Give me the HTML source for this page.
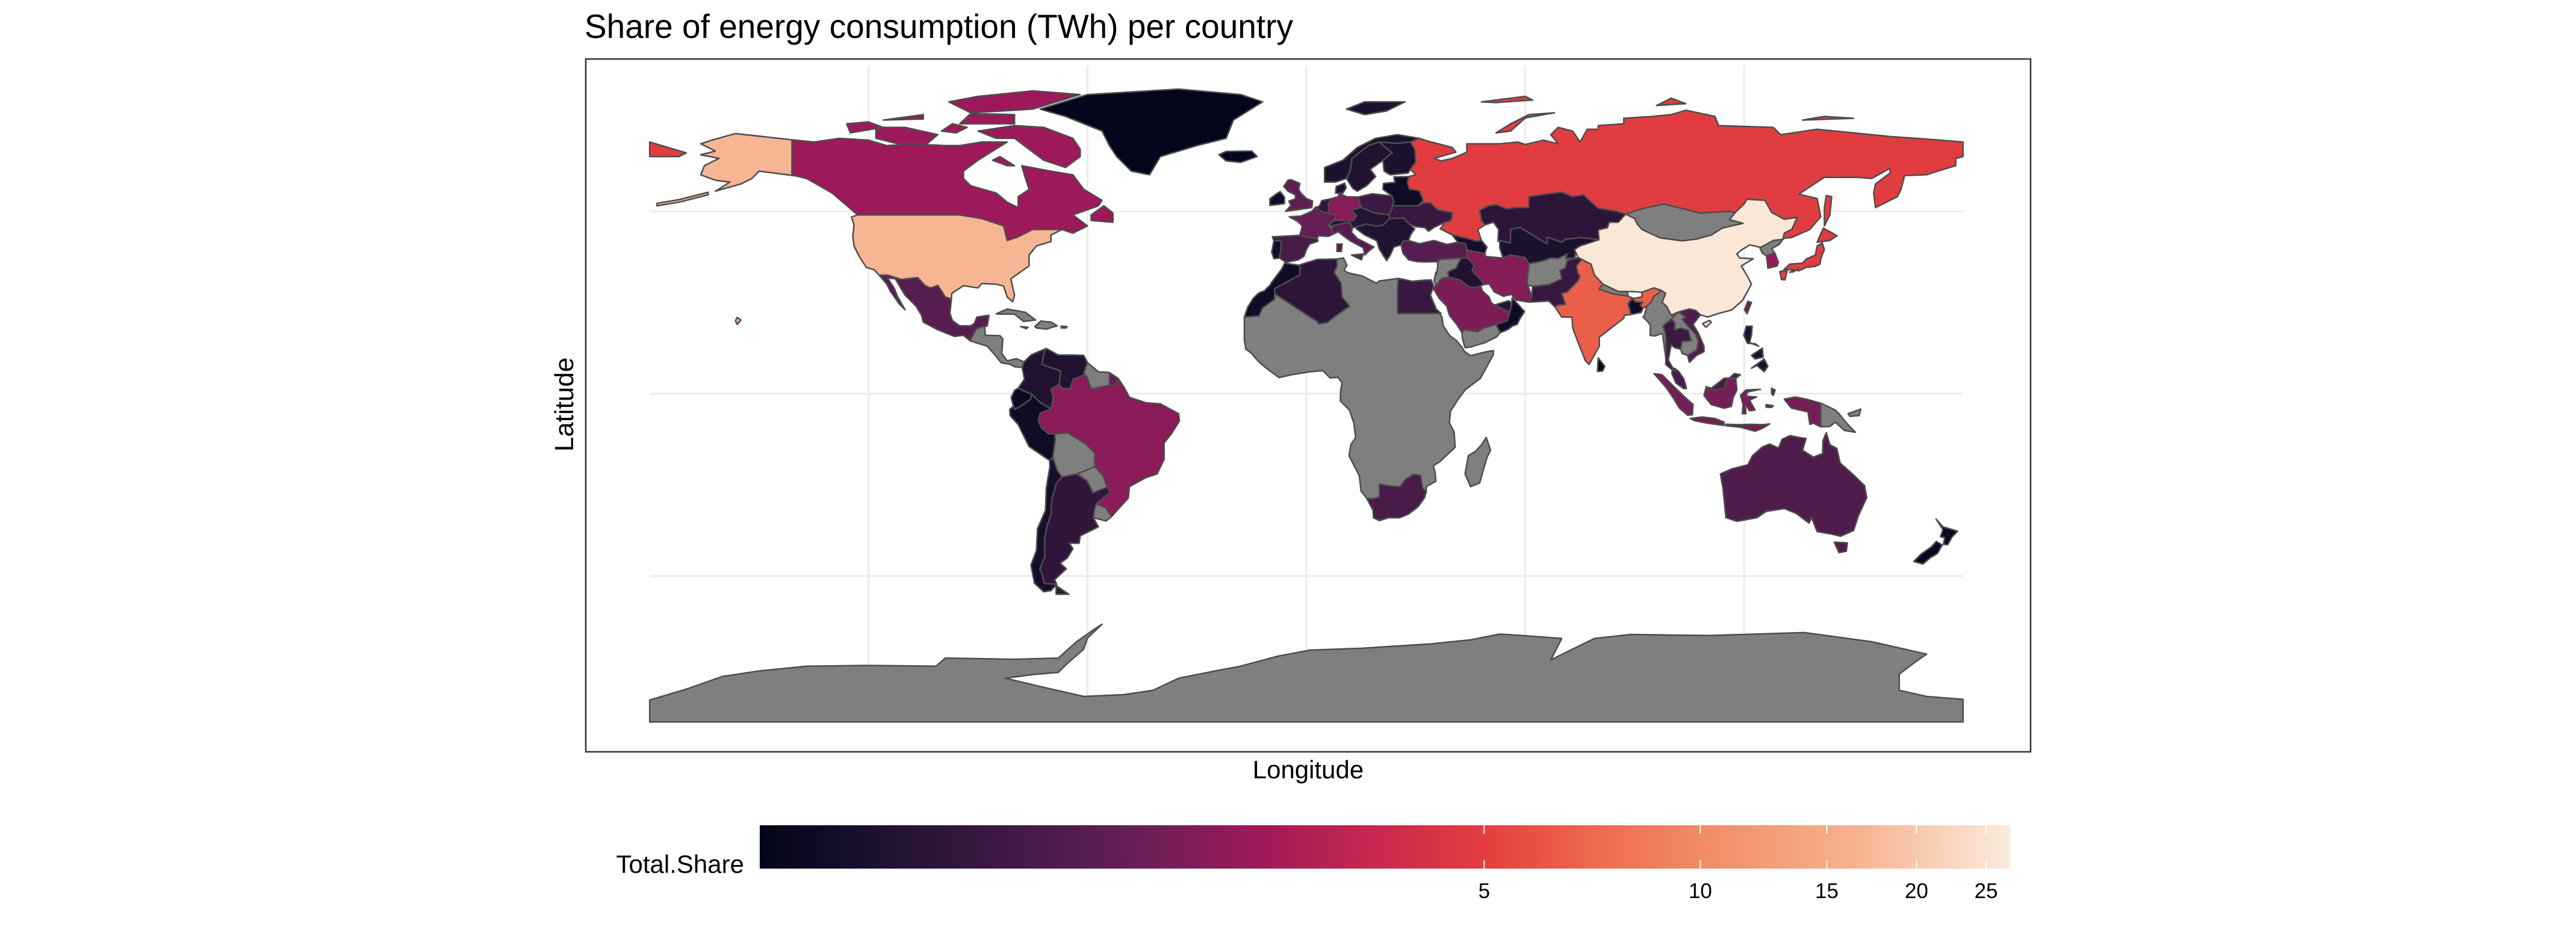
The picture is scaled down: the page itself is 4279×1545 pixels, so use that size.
<!DOCTYPE html>
<html><head><meta charset="utf-8"><style>
html,body{margin:0;padding:0;background:#fff}
svg{display:block;font-family:"Liberation Sans",Arial,sans-serif}
</style></head><body>
<svg id="chart" width="4279" height="1545" viewBox="0 0 4279 1545" xmlns="http://www.w3.org/2000/svg">
<defs><linearGradient id="rocket" x1="0" x2="1" y1="0" y2="0"></linearGradient></defs>
<rect width="4279" height="1545" fill="#fff"/>
<text x="971" y="63" font-size="56" textLength="1177" lengthAdjust="spacingAndGlyphs">Share of energy consumption (TWh) per country</text>
<g id="grid"></g>
<g id="map"></g>
<rect x="973" y="98" width="2400" height="1151" fill="none" stroke="#333" stroke-width="2.5"/>
<text x="2173" y="1293" font-size="42" text-anchor="middle">Longitude</text>
<text transform="translate(952,672) rotate(-90)" font-size="44" text-anchor="middle">Latitude</text>
<text x="1236" y="1450" font-size="42" text-anchor="end">Total.Share</text>
<rect id="cbar" x="1262" y="1371" width="2077" height="72" fill="url(#rocket)"/>
<g id="cticks"></g>
</svg>
<script>
// ---- data ----
const legendTicks = [5, 10, 15, 20, 25];
const scaleMin = 0.49, scaleMax = 27;
const countries = ["Greenland","Iceland","Canada","USA","Russia","Mexico","CentralAmerica","Cuba","Hispaniola","Colombia","Venezuela","Guianas","FrenchGuiana","Ecuador","Peru","Brazil","Bolivia","Paraguay","Uruguay","Argentina","Chile","Norway","Sweden","Finland","UK","Ireland","France","Spain","Portugal","Germany","Benelux","Denmark","Poland","Italy","CentralEurope","Balkans","Baltics","Ukraine","Kazakhstan","CentralAsia","Mongolia","China","NorthKorea","SouthKorea","Japan","Taiwan","India","Bangladesh","Nepal","Pakistan","Afghanistan","Iran","Iraq","Levant","SaudiArabia","Yemen","Oman","UAE","Turkey","Caucasus","Africa","Morocco","Algeria","Egypt","SouthAfrica","Madagascar","Myanmar","Thailand","Indochina","Vietnam","Malaysia","Indonesia","PNG","Philippines","SriLanka","Australia","NewZealand","Antarctica"];
const values = [0.5,0.5,2.4,17,4.9,1.4,null,null,null,0.75,0.75,null,1.6,0.55,0.6,2.1,null,null,null,0.9,0.65,0.7,0.75,0.7,1.5,0.6,1.6,1.2,0.6,2.1,0.9,0.7,1.05,1.4,0.8,0.75,0.6,1.0,0.85,0.7,null,26,null,2.3,4.8,1.5,6.5,0.6,null,1.0,null,2.0,0.75,null,1.9,null,0.6,0.8,1.4,0.65,null,0.6,0.85,1.0,1.2,null,null,1.05,null,1.3,1.2,1.8,null,0.7,0.5,1.3,0.55,null];
// ---- geometry (lon/lat) ----
const shapes = {
Greenland:[[[-73,78],[-60,82],[-35,83.5],[-18,82],[-12,80],[-20,75],[-22,70],[-30,68],[-40,65],[-43,60],[-48,61],[-52,65],[-54,68],[-56,72],[-66,76]]],
Iceland:[[[-24,65.5],[-22,66.4],[-15,66.5],[-13.5,65],[-18,63.4],[-22,63.8]]],
Canada:[[[-141,69.6],[-141,60],[-137,59],[-130,55],[-123,49],[-95,49],[-89,48],[-83,46],[-82,42],[-79,43],[-75,45],[-71,45],[-67,45],[-64,44],[-60,46],[-64,49],[-57,51.5],[-56,53],[-61,56],[-64,60],[-70,61],[-78,62.5],[-77,59],[-76,56],[-79,54],[-79,51],[-82,52.5],[-85,55],[-92,57],[-94,59],[-94,61],[-90,64],[-86,66.5],[-82,69],[-89,69],[-95,68],[-99,68],[-108,68.5],[-115,68],[-120,69.5],[-128,70],[-135,69]],
[[-62,67],[-64,70],[-72,73],[-80,73.5],[-90,72],[-85,70],[-80,70],[-76,67],[-72,64],[-66,62],[-62,65]],
[[-92,77],[-75,78],[-62,82],[-75,83],[-90,81.5],[-98,80]],
[[-118,70],[-118,73],[-110,73],[-101,71],[-104,68.5],[-112,68.5]],
[[-125,71.5],[-126,74],[-120,74.5],[-116,73]],
[[-95,74],[-80,74],[-80,76.5],[-92,76.8]],
[[-59,47.5],[-53,47],[-53,49.5],[-55.5,51.5],[-59,49]],
[[-100,72],[-97,74],[-93,73],[-96,71.5]],
[[-116,75],[-105,76.5],[-105,75.3]],
[[-80,62.5],[-84,65],[-86,64],[-82,62.5]]],
USA:[[[-124.7,48.4],[-123,49],[-95,49],[-89,48],[-83,46],[-82,42],[-79,43],[-75,45],[-71,45],[-67,45],[-70,43.5],[-70,41.7],[-74,40.5],[-76,38],[-76,35],[-81,31.5],[-80,27],[-80.5,25.2],[-82,26.5],[-83,29.5],[-85,30],[-89,30.2],[-90,29],[-94,29.6],[-97.2,27.5],[-97.3,26],[-99,26.5],[-101,29.7],[-103,29],[-104.5,29.6],[-106.5,31.8],[-111,31.3],[-114.8,32.5],[-117.1,32.5],[-118.5,34],[-120.6,34.6],[-122.5,37.5],[-124,40.5],[-124.3,43],[-124,46.3]],
[[-141,69.6],[-156.5,71.3],[-163,69.5],[-166,68.5],[-162,66.5],[-166,65.5],[-161,64.5],[-165,62.5],[-166,60],[-162,58.5],[-158,58],[-162,55.5],[-155,57.5],[-152,59],[-150,61],[-146,60.5],[-140,59.7],[-137,59],[-141,60]],
[[-164,54.5],[-172,52.5],[-178,51.5],[-178,52.2],[-172,53.2],[-164,55.2]],
[[-156,19],[-155,20.2],[-156,20.9],[-156.5,20]]],
Russia:[[[28,59.5],[30,60],[28.5,61.5],[30,63.5],[29.7,67],[28.5,69],[31,70],[33,69.3],[40,67.5],[41,66.2],[35,64.5],[37,63.8],[40,64.5],[44,66.2],[44,68.5],[53,68.5],[58,69],[60,68.3],[65,69.5],[69,68.5],[67,71],[69,73],[73,72],[75,69],[77,72.5],[80,72.5],[80,73.5],[87,74],[87,75.5],[95,76],[100,76.5],[104,77.7],[112,76],[113,73.5],[128,73],[130,71],[140,72.5],[150,71.5],[160,70.5],[170,69.8],[180,69],[180,65],[178,64.5],[178,62.5],[173,61],[170,60],[164,59.8],[163,56],[162,54],[158,52],[156,51],[155.5,55],[156,57.5],[160,60.5],[160,61.8],[155,59],[151,59.3],[142,59.3],[135,54.7],[140,53.5],[141,48.5],[138,45],[133,42.8],[131,42.6],[130.6,42.3],[131,44],[133.1,45.1],[134.5,48.3],[131,47.8],[127.5,49.7],[125.7,53],[120.8,53.3],[120,52],[117.5,49.6],[116,50],[108,49.5],[98,52],[92,50.7],[87.5,49.2],[85,50],[80,50.8],[77,53.5],[76,54.5],[73,54],[70,55.2],[65,54.6],[61,54],[61,51],[57,51],[55,50.6],[52,51.8],[50,51.5],[47.5,50.3],[48,48],[48,47.5],[49,46.3],[47,45],[48,42],[46.6,41.8],[44,42.6],[40,43.5],[36.7,45.2],[38,47],[39.7,47.5],[40,49.6],[36,50.4],[34,52.3],[32,52.3],[32,53],[31,55.6],[28.2,56.1],[27.7,57.8]],
[[142,46],[143.5,49],[144,54],[142.5,54.3],[142,51]],
[[52,71.5],[56,74],[61,76.5],[68,77],[60,75.6],[56,72]],
[[96,79],[104,79.5],[100,81]],
[[136,75],[150,75.5],[142,76]],
[[48,80],[60,81.5],[62,80.5],[52,79.8]],
[[-180,65],[-172,65],[-170,66],[-175,67.5],[-180,69]]],
Mexico:[[[-117.1,32.5],[-114.8,32.5],[-111,31.3],[-106.5,31.8],[-104.5,29.6],[-103,29],[-101,29.7],[-99,26.5],[-97.3,26],[-97.7,22],[-97,20],[-95,18.6],[-92,18.6],[-91,19.3],[-90.3,21],[-87,21.5],[-87.5,18.5],[-88.2,18.5],[-90.5,17.8],[-91.4,16],[-92.2,14.5],[-94,16],[-96.5,15.7],[-101,17.5],[-105,19.6],[-105.5,21.5],[-107,24],[-110,27],[-112.7,31.5],[-114.8,31.7],[-113,29],[-112,26.5],[-110,23],[-111.5,24.5],[-114,28],[-115,30]]],
CentralAmerica:[[[-92.2,14.5],[-91.4,16],[-90.5,17.8],[-88.2,18.5],[-88,16],[-84,15.9],[-83.2,15],[-83.5,11],[-82,9],[-79.5,9.6],[-77.4,8.7],[-77.9,7.2],[-80,7.4],[-81,8],[-83.7,8.5],[-85.7,11],[-87.5,13],[-90,13.8]]],
Cuba:[[[-85,21.9],[-82,23.2],[-77,22.3],[-74.2,20.2],[-77.5,19.8],[-80,21.8],[-84,21.8]],[[-78.3,18.4],[-76.3,18.2],[-76.8,17.8]]],
Hispaniola:[[[-74.4,18.4],[-72.8,19.9],[-69.9,19.6],[-68.3,18.6],[-71.3,17.7],[-74,18]],[[-67.2,18.5],[-65.6,18.4],[-65.8,18],[-67.2,18]]],
Colombia:[[[-77.4,8.7],[-75.5,10.6],[-71.3,12.4],[-71.9,11.1],[-72.5,8],[-67.3,6.2],[-67.8,2.5],[-70,1.3],[-69.4,-1.1],[-70,-4.2],[-73,-2.4],[-75.3,-0.1],[-77,0.5],[-79,1.5],[-77.3,4],[-77.9,7.2]]],
Venezuela:[[[-71.3,12.4],[-68,10.6],[-64,10.6],[-61,10.5],[-60,8.5],[-61,5.7],[-60.7,5.2],[-63.9,4],[-64.8,1.3],[-67,1.5],[-67.8,2.5],[-67.3,6.2],[-72.5,8],[-71.9,11.1]]],
Guianas:[[[-60,8.5],[-57,6],[-54,5.8],[-54,2.3],[-56,1.9],[-59,1.3],[-60.1,4.5],[-61,5.7]]],
FrenchGuiana:[[[-54,5.8],[-51.6,4.2],[-52.5,2.3],[-54,2.3]]],
Ecuador:[[[-80.3,-3.4],[-80.9,-1.1],[-80,0.9],[-79,1.5],[-77,0.5],[-75.3,-0.1],[-75.6,-1.5],[-78.4,-3.5],[-80,-4.3]]],
Peru:[[[-80.3,-3.4],[-80,-4.3],[-78.4,-3.5],[-75.6,-1.5],[-75.3,-0.1],[-73,-2.4],[-70,-4.2],[-72.9,-5.3],[-73.5,-7.5],[-72.5,-9.5],[-70.6,-11],[-69,-11],[-68.8,-12.6],[-69.5,-17.5],[-70.4,-18.3],[-76,-14.5],[-79,-8.5],[-81.2,-6],[-81.3,-4.3]]],
Brazil:[[[-60.7,5.2],[-60.1,4.5],[-59,1.3],[-56,1.9],[-54,2.3],[-52.5,2.3],[-51.6,4.2],[-50,1.8],[-48.5,-1],[-44,-2.5],[-40,-2.8],[-35,-5.5],[-34.8,-7.5],[-37,-11],[-39,-13.5],[-39,-18],[-40.9,-22],[-44,-23],[-48.5,-25.5],[-48.8,-28.6],[-53.4,-33.7],[-55,-31.3],[-57.6,-30.2],[-53.8,-27],[-54.6,-25.6],[-55.7,-22.6],[-58,-20],[-58,-16.3],[-60.5,-13.8],[-65.3,-10.8],[-69,-11],[-70.6,-11],[-72.5,-9.5],[-73.5,-7.5],[-72.9,-5.3],[-70,-4.2],[-69.4,-1.1],[-70,1.3],[-67.8,2.5],[-67,1.5],[-64.8,1.3],[-63.9,4]]],
Bolivia:[[[-69,-11],[-65.3,-10.8],[-60.5,-13.8],[-58,-16.3],[-58,-20],[-62.8,-22],[-67,-22.8],[-68.3,-21],[-69.5,-17.5],[-68.8,-12.6]]],
Paraguay:[[[-58,-20],[-55.7,-22.6],[-54.6,-25.6],[-58.5,-27.2],[-60,-24],[-62.8,-22]]],
Uruguay:[[[-57.6,-30.2],[-55,-31.3],[-53.4,-33.7],[-54.9,-34.9],[-58.4,-34],[-58,-31.5]]],
Argentina:[[[-67,-22.8],[-62.8,-22],[-60,-24],[-58.5,-27.2],[-54.6,-25.6],[-53.8,-27],[-57.6,-30.2],[-58,-31.5],[-58.4,-34],[-57,-36.5],[-62,-39],[-62.3,-41],[-65,-41],[-64,-42.5],[-65.5,-45],[-67.5,-46.5],[-65.8,-48],[-69,-51],[-68.4,-52.3],[-71.9,-52],[-72.3,-50],[-73,-48],[-71.7,-44.5],[-71.8,-40],[-71,-36],[-70,-33],[-69.8,-29],[-68.5,-24.5]],[[-68.6,-52.6],[-65.1,-55],[-68.6,-55]]],
Chile:[[[-70.4,-18.3],[-69.5,-17.5],[-68.3,-21],[-67,-22.8],[-68.5,-24.5],[-69.8,-29],[-70,-33],[-71,-36],[-71.8,-40],[-71.7,-44.5],[-73,-48],[-72.3,-50],[-71.9,-52],[-68.4,-52.3],[-70,-54],[-72,-54.3],[-74.5,-52],[-75.5,-47],[-74,-43],[-73.7,-37],[-71.5,-32],[-71.3,-26],[-70.3,-20]]],
Norway:[[[5,58],[5,62],[10,64],[14,67.5],[19,70],[25,71],[31,70],[28.5,69],[25,68.6],[20,69],[17,68],[12.5,64.5],[12,61],[11,59],[8,58]],[[11,78],[16,80],[27,80],[22,77.5],[16,76.5]]],
Sweden:[[[11,59],[12,61],[12.5,64.5],[17,68],[20,69],[23.5,66],[21,64],[17.5,61.5],[19,59.5],[16.5,57],[14,55.5],[12.7,56.3]]],
Finland:[[[23.5,66],[20,69],[25,68.6],[28.5,69],[29.7,67],[30,63.5],[28.5,61.5],[27.9,60.5],[23,60],[21.3,61],[21,64]]],
UK:[[[-5.7,50],[1.5,51],[1.7,52.8],[0,53.5],[-1.5,55],[-2.1,56],[-1.8,57.6],[-4,58.6],[-5,58.6],[-6.2,56.8],[-5,55.5],[-3,54.5],[-3,53.4],[-4.8,52.8],[-4.2,51.6]]],
Ireland:[[[-10,51.6],[-6,52.1],[-6,53.9],[-7.2,55.4],[-8.6,54.5],[-10,53.4]]],
France:[[[-4.7,48.5],[-1.5,48.7],[1.5,50],[2.5,51.1],[4.2,49.9],[6,49.4],[8.2,49],[7.5,47.5],[6,46.2],[7,45],[7.5,43.8],[6,43.1],[3.2,43.3],[3,42.4],[-1.8,43.4],[-1.1,46],[-2.5,47.3]]],
Spain:[[[-9.3,43],[-1.8,43.4],[3,42.4],[3.2,41.8],[0.9,41],[0,39.5],[-0.7,37.6],[-2.2,36.7],[-5.6,36],[-7.4,37.2],[-7,39.5],[-6.9,41.9],[-8.9,41.9]]],
Portugal:[[[-8.9,41.9],[-6.9,41.9],[-7,39.5],[-7.4,37.2],[-8.9,37],[-9.5,38.8]]],
Germany:[[[6,49.4],[6.1,50.8],[6,52],[7,53.5],[8.7,54],[9,54.9],[11,54],[14.2,53.9],[14.7,52],[15,51],[12.2,50.3],[13.8,48.8],[13,47.5],[10,47.5],[7.5,47.5],[8.2,49]]],
Benelux:[[[2.5,51.1],[3.6,51.4],[4.2,52.9],[7,53.5],[6,52],[6.1,50.8],[6,49.4],[4.2,49.9]]],
Denmark:[[[8,55],[8.2,56.8],[10.5,57.7],[10.9,56.4],[10,55],[9,54.9]]],
Poland:[[[14.2,53.9],[18,54.8],[23.5,54.2],[24,52.5],[23.5,50.8],[22.6,49.1],[18.8,49.5],[15,51],[14.7,52]]],
Italy:[[[7,45],[7.5,43.8],[8.7,44.4],[10.5,43],[12.2,41.8],[15.6,40],[16,38],[17,39],[18.5,40.2],[16,41.5],[14,42.5],[12.4,44.2],[12.6,45.5],[13.7,45.7],[12,47],[10.5,46.8],[7,46]],[[12.4,38],[15.6,38.3],[15.1,36.7]],[[8.4,41],[9.8,41],[9.6,39],[8.4,39]]],
CentralEurope:[[[6,46.2],[7.5,47.5],[10,47.5],[13,47.5],[13.8,48.8],[12.2,50.3],[15,51],[18.8,49.5],[22.6,49.1],[22.9,48],[21,46.2],[19,45.9],[16.5,46.5],[13.7,45.7],[12.6,45.5],[12,47],[10.5,46.8],[7,46]]],
Balkans:[[[13.7,45.7],[16.5,46.5],[19,45.9],[21,46.2],[22.9,48],[26.6,48.2],[28.2,46.5],[29.7,45.2],[28.6,43.6],[28,42],[26.3,41.7],[26,40.8],[24,40.2],[23,38],[22,36.5],[21,38],[20,39.6],[19.3,41.9],[16,43.5],[13.7,45.2]]],
Baltics:[[[21,56],[21.1,57.6],[22.6,57.8],[24.3,57.9],[24,59.4],[28,59.5],[27.7,57.8],[28.2,56.1],[31,55.6],[32,53],[30.7,51.5],[23.5,51.5],[24,52.5],[23.5,54.2]]],
Ukraine:[[[23.5,51.5],[30.7,51.5],[32,52.3],[34,52.3],[36,50.4],[40,49.6],[39.7,47.5],[38,47],[35,45.6],[33.5,44.5],[32.5,45.5],[30,45.8],[28.2,46.5],[26.6,48.2],[22.9,48],[22.6,49.1],[23.5,50.8]]],
Kazakhstan:[[[47.5,50.3],[50,51.5],[52,51.8],[55,50.6],[57,51],[61,51],[61,54],[65,54.6],[70,55.2],[73,54],[76,54.5],[77,53.5],[80,50.8],[85,50],[87.5,49.2],[85.5,47],[83,47],[82.5,45.5],[80,44.9],[80.2,42.2],[75,42.8],[71,42.3],[70,41.5],[66,42.9],[66,41],[62,43.5],[58.5,45.6],[56,45],[55.9,41.3],[53,42],[52.5,41.8],[52.7,45],[51.3,47],[49,46.3],[48,47.5],[48,48]]],
CentralAsia:[[[55.9,41.3],[56,45],[58.5,45.6],[62,43.5],[66,41],[66,42.9],[70,41.5],[71,42.3],[75,42.8],[80.2,42.2],[78,40],[74,39.5],[73.5,37],[71,37],[71.5,38.3],[69,37],[67,37.2],[64.5,36.3],[61,35.6],[60,37.3],[56,38],[53.9,37.2],[53,40],[53,42]]],
Mongolia:[[[87.5,49.2],[92,50.7],[98,52],[108,49.5],[116,50],[117.5,49.6],[116,47.7],[119.7,46.7],[114,45.4],[111,43.5],[107,42.4],[103,41.9],[97,42.7],[92,45],[90.7,46.5],[90,48]]],
China:[[[73.5,39.5],[75,40.5],[80.2,42.2],[80,44.9],[82.5,45.5],[83,47],[85.5,47],[87.5,49.2],[90,48],[90.7,46.5],[92,45],[97,42.7],[103,41.9],[107,42.4],[111,43.5],[114,45.4],[119.7,46.7],[116,47.7],[117.5,49.6],[120,52],[120.8,53.3],[125.7,53],[127.5,49.7],[131,47.8],[134.5,48.3],[133.1,45.1],[131,44],[130.6,42.3],[128,42],[125,40],[121.5,40.8],[119,39.2],[118,38.3],[118.8,37.2],[122.5,37],[119.2,35],[121,32],[122,30],[119.5,25.5],[116.5,22.9],[113,22],[110,21],[108,21.6],[106.7,22.8],[105,23.2],[102,22.4],[100,21.5],[98.7,24],[97.5,25],[98.5,27.5],[97.3,28.3],[95.3,29],[92,27.8],[89,28],[85.5,28],[81.3,30],[79,32.5],[78,35.5],[75.5,36.8],[74.5,37.3]],[[108.6,19.2],[110.5,20.1],[111,19.6],[109.5,18.2]]],
NorthKorea:[[[124.3,40],[128,42],[130.6,42.3],[129.7,41],[127.5,39.7],[128.4,38.6],[126.1,37.8],[125,38.5]]],
SouthKorea:[[[126.1,37.8],[128.4,38.6],[129.4,36],[129,35],[126.5,34.4],[126.3,36.5]]],
Japan:[[[130.9,34],[132.5,35.5],[136,35.8],[137,36.9],[139.5,38],[140,40.5],[141.4,41.3],[142,39.5],[141,37],[140.8,35.5],[139.5,34.9],[137,34.6],[135,33.7],[133,34]],[[140,41.5],[141.7,45.4],[145.5,43.3],[143.5,42]],[[129.8,33.5],[131.8,33.8],[131.2,31.2],[130.2,31.3]],[[132.5,33.3],[134.7,34.2],[133.5,33.4]]],
Taiwan:[[[120.1,23],[121,25.3],[122,25],[120.8,21.9]]],
India:[[[68.2,23.7],[70,21],[72.8,21],[73,18],[74.5,14],[76.5,9],[77.5,8],[80.3,13],[80.3,15.5],[82.3,17],[87,20.7],[87.2,21.5],[89,21.7],[88.7,22.8],[88.2,24.6],[89,26],[92,26.5],[92,27.8],[95.3,29],[97.3,28.3],[96.2,27.3],[95.2,26.7],[94.6,25.2],[93.3,24],[92.3,23.5],[91.8,22.3],[91.5,24.2],[92.2,25],[90,25.2],[89.5,26.2],[88.2,26.7],[88,27.9],[85.5,28],[81.3,30],[79,32.5],[78,35.5],[75.5,36.8],[74,35],[74.5,32.7],[75,32.3],[74.5,31],[71.5,27.9],[70,27.5],[71,24.5],[68.8,24.3]]],
Bangladesh:[[[88.7,22.8],[89,21.7],[91.8,22.3],[92.3,23.5],[91.5,24.2],[92.2,25],[90,25.2],[89.5,26.2],[88.2,24.6]]],
Nepal:[[[80.3,28.8],[81.3,30],[85.5,28],[88,27.9],[88.2,26.7],[84,27.4],[80.4,28.6]]],
Pakistan:[[[61,25.1],[66.5,25.4],[68.2,23.7],[68.8,24.3],[71,24.5],[70,27.5],[71.5,27.9],[74.5,31],[75,32.3],[74.5,32.7],[74,35],[75.5,36.8],[74.5,37.3],[71.5,36.5],[71,34.5],[69.5,33.8],[70,31.5],[66.5,29.9],[62,29.4],[61.8,26.5]]],
Afghanistan:[[[60.5,29.9],[62,29.4],[66.5,29.9],[70,31.5],[69.5,33.8],[71,34.5],[71.5,36.5],[74.5,37.3],[71,37],[71.5,38.3],[69,37],[67,37.2],[64.5,36.3],[61,35.6],[60.8,33.5],[60.5,30.5]]],
Iran:[[[44,39.4],[46.5,38.9],[48.9,38.4],[49.2,37.6],[53.9,37.2],[56,38],[60,37.3],[61,35.6],[60.8,33.5],[60.5,30.5],[61.8,26.5],[61,25.1],[57.3,25.7],[56.3,27.2],[54,26.7],[51.5,27.9],[50.1,30.1],[48.6,29.9],[48,31],[47.7,31.4],[46,33],[45.4,34],[46,35],[45,36.3],[44.2,37.2]]],
Iraq:[[[38.8,33.4],[41,34.4],[42.4,37.2],[44.2,37.2],[45,36.3],[46,35],[45.4,34],[46,33],[47.7,31.4],[48,31],[48.6,29.9],[47.7,29.5],[46.5,29.1],[44.7,29.2],[42.1,31.1],[39,32]]],
Levant:[[[35.7,32.7],[36,35],[35.9,36],[36.7,36.8],[42.4,37.2],[41,34.4],[38.8,33.4],[39,32],[37,31.5],[35.5,29.5],[35,31],[35.5,33.3]]],
SaudiArabia:[[[34.7,29],[35.5,29.5],[37,31.5],[39,32],[42.1,31.1],[44.7,29.2],[46.5,29.1],[47.7,29.5],[48.4,28],[50,26.6],[50.8,24.8],[51.6,24.3],[55,22.7],[55.7,22],[55,20],[52,19],[48.7,18],[47,17],[43.4,17.5],[42.6,16.8],[41.2,19],[39.2,21.5],[38.5,24],[36.5,26],[35.3,28]]],
Yemen:[[[42.6,16.8],[43.4,17.5],[47,17],[48.7,18],[52,19],[53.1,16.7],[52.2,15.6],[49,14],[45,12.8],[43.5,12.6],[42.8,15]]],
Oman:[[[52,19],[55,20],[55.7,22],[56.3,24.8],[56.4,26.3],[59.8,22.5],[58.5,20.5],[57.8,19],[56.6,18.6],[55.3,17.6],[53.1,16.7]]],
UAE:[[[51.6,24.3],[55,22.7],[55.7,22],[56.3,24.8],[55.5,25.5]]],
Turkey:[[[26,40.8],[26.3,41.7],[28,42],[31,41.1],[35,42],[38.5,40.9],[41.5,41.5],[43.6,41.1],[44,39.4],[44.2,37.2],[42.4,37.2],[36.7,36.8],[36,36.2],[32.5,36.1],[30.4,36.2],[28,36.7],[26.5,38.5],[26.2,39.5]]],
Caucasus:[[[40,43.5],[44,42.6],[46.6,41.8],[48,42],[49.5,40.2],[48.9,38.4],[46.5,38.9],[44,39.4],[43.6,41.1],[41.5,41.5]]],
Africa:[[[-17,21],[-17,14.7],[-16.6,12.2],[-15,11],[-13.3,9],[-11,7],[-7.5,4.4],[-4,5.2],[1,6],[4.5,6.3],[6.5,4.3],[8.6,4.5],[9.8,3],[9.4,1],[9.3,-2],[11.8,-4.5],[13,-8],[13.5,-12],[12.2,-14],[11.7,-17],[14.5,-22.5],[15,-26.7],[16.5,-28.6],[18.3,-32],[18.4,-34],[20,-34.8],[22.5,-34],[25.6,-34],[28,-33],[30.6,-31],[32.4,-28.5],[32.9,-26],[33,-25.4],[35.5,-24],[35.3,-21.5],[34.8,-19.8],[36.5,-18.7],[40.8,-14.7],[40.5,-10.5],[39.2,-8],[39.5,-4.8],[41.5,-1.7],[43.5,1],[47.7,4.2],[51.2,10.6],[51.3,11.8],[48.9,11.4],[45,10.4],[43.3,11.6],[42.8,12.5],[41.2,14.5],[39.3,15.9],[37.5,18.6],[37.2,21],[35.6,23.2],[34,27],[33.6,27.8],[32.4,29.9],[34.9,29.5],[34.2,31.2],[32.5,31.1],[29,30.8],[25.2,31.6],[20,30.9],[19.2,30.3],[15.2,32.3],[11.5,33.1],[10.3,33.8],[11.1,35.2],[10.2,37.2],[8.4,36.9],[3,36.8],[-1,35.2],[-2.2,35.2],[-5.9,35.8],[-6.8,34.1],[-9.6,30.4],[-9.8,29.9],[-11.5,28.2],[-13,27.6],[-14.5,26.2],[-16,23.8]]],
Morocco:[[[-5.9,35.8],[-2.2,35.2],[-1.7,34.8],[-1.8,32.5],[-3.6,31.6],[-8.7,28.8],[-8.7,27.4],[-8.7,25.9],[-12,23.5],[-13,21.3],[-17,21],[-16,23.8],[-14.5,26.2],[-13,27.6],[-11.5,28.2],[-9.8,29.9],[-9.6,30.4],[-6.8,34.1]]],
Algeria:[[[-2.2,35.2],[3,36.8],[8.4,36.9],[8.4,34.9],[7.6,33.3],[9.5,30.3],[9.8,26.5],[11.9,24],[7.5,20.9],[5.7,19.5],[3.2,19.1],[3.2,19.7],[1,21],[-4.9,24.9],[-8.7,27.4],[-8.7,28.8],[-3.6,31.6],[-1.8,32.5],[-1.7,34.8]]],
Egypt:[[[25,22],[25,29],[25.2,31.6],[29,30.8],[32.5,31.1],[34.2,31.2],[34.9,29.5],[34,27],[35.6,23.2],[36.9,22]]],
SouthAfrica:[[[16.5,-28.6],[18.3,-32],[18.4,-34],[20,-34.8],[22.5,-34],[25.6,-34],[28,-33],[30.6,-31],[32.4,-28.5],[32.9,-26.8],[31.9,-25.9],[31.3,-22.4],[29.4,-22.1],[27,-23.6],[25.7,-25.5],[23,-25.3],[20,-24.8],[20,-28.4],[17.8,-28.8]]],
Madagascar:[[[49.3,-12],[50.5,-15.5],[49.5,-17.5],[47.5,-24.5],[45,-25.5],[43.5,-22],[44.4,-17],[46.5,-15.7],[48,-14]]],
Myanmar:[[[92.3,21],[92.6,21.3],[93.3,24],[94.6,25.2],[95.2,26.7],[96.2,27.3],[97.3,28.3],[98.5,27.5],[97.5,25],[98.7,24],[100,21.5],[101,21.4],[100,20.4],[97.8,18.6],[98.5,16],[98.6,13.5],[99.2,10],[98.5,10],[97.6,16.5],[95.4,15.8],[94.2,16],[94.3,18.7],[93.6,19.7]]],
Thailand:[[[97.8,18.6],[100,20.4],[101,19.5],[101,17.5],[102.5,18],[104.7,17.4],[105.5,14.5],[103,14.3],[102.6,12.2],[100.9,12.6],[100,13.4],[99.2,9.2],[100.5,7],[101,6.9],[102,6.2],[100.3,6.5],[98.5,8],[98.6,13.5],[98.5,16]]],
Indochina:[[[101,21.4],[102,22.4],[104,21],[103,20.5],[104.6,18.5],[106.5,16.5],[107.5,14.5],[107,12],[104.5,10.5],[103,11],[102.6,12.2],[103,14.3],[105.5,14.5],[104.7,17.4],[102.5,18],[101,17.5],[101,19.5],[100,20.4]]],
Vietnam:[[[102,22.4],[105,23.2],[106.7,22.8],[108,21.6],[106,19],[107.5,16.5],[109,13],[109,11.5],[107,10.5],[105,8.6],[104.5,10.5],[107,12],[107.5,14.5],[106.5,16.5],[104.6,18.5],[103,20.5],[104,21]]],
Malaysia:[[[100.3,6.5],[102,6.2],[103.5,4],[104.2,1.4],[103.4,1.4],[101.3,2.9],[100.2,5.5]],[[109.6,1.9],[111,1.5],[114.5,4.2],[116,4.3],[117.3,5.5],[119,5.2],[117.7,4.2],[115.5,4.2],[114.5,1.5],[113,1.2],[111,1],[110,1.7]]],
Indonesia:[[[95.3,5.5],[97.5,5.2],[100.4,2.3],[103.8,-1],[106,-3],[105.8,-5.8],[104.5,-5.9],[102.3,-4],[100.6,-1.2],[98.6,1.7]],[[105.2,-6.8],[108.5,-6.4],[112,-6.8],[114.5,-7.8],[114.5,-8.7],[110,-8.1],[106.4,-7.4]],[[109,-0.5],[109.6,1.9],[110,1.7],[111,1],[113,1.2],[114.5,1.5],[115.5,4.2],[117.7,4.2],[118,1],[117,-1],[116.5,-3.5],[114.5,-4],[111,-3],[110,-1.8]],[[119.5,-5.5],[119.7,-3],[119,-0.5],[120.5,1],[124.5,1.2],[121,0.5],[120.5,-0.7],[123.4,-0.9],[121.5,-1.8],[123,-4.5],[121.5,-4.7],[120.3,-2.9],[120.5,-5.5]],[[131,-1.5],[134,-0.9],[137,-1.5],[141,-2.6],[141,-9.1],[139,-8.1],[138,-8.4],[137.5,-5],[133,-4],[132,-2.8]],[[115,-8.4],[119,-8.5],[122,-8.4],[125,-8.5],[127,-8.3],[125,-9.5],[123,-10.3],[119,-9.2],[115,-8.8]],[[127.5,1.5],[128.5,1],[128,-0.5],[127.5,0]],[[126,-3],[128,-3.3],[127.5,-3.8],[126,-3.7]]],
PNG:[[[141,-2.6],[145,-4.5],[146,-5.5],[148,-8],[150.5,-10.6],[147.5,-10.1],[145,-7.8],[143.5,-9],[141,-9.1]],[[148.5,-5.5],[152,-4.2],[151.5,-6],[149,-6.2]]],
Philippines:[[[120.6,18.5],[122.2,18.5],[122,16],[121.5,14],[124,13],[123,13.7],[120.9,13.8],[119.9,16]],[[122,7],[125.5,9.5],[126.5,7.5],[125.5,6],[123.5,7.7]],[[122,10.5],[125,12.5],[125.2,10],[123,9.5]]],
SriLanka:[[[79.8,6.1],[80,9.8],[81.8,7.5],[81.2,6.2]]],
Australia:[[[113.5,-22],[114.2,-26],[115,-34],[118,-35],[123.5,-34],[126,-32.3],[131,-31.5],[134.2,-32.8],[137.8,-35.5],[138.5,-34],[140,-37.8],[144,-38.5],[146.4,-39.1],[150,-37.5],[151.3,-33.5],[153.6,-28.5],[153,-25.2],[150,-22.3],[146.3,-19],[145.4,-15],[143.5,-14],[142.5,-10.7],[141.6,-12.9],[141.5,-16.4],[139,-17.4],[136,-15.5],[137,-12.3],[135,-12],[132.6,-11.5],[130.4,-12.5],[129.4,-14.9],[127,-13.8],[125,-14.6],[122.3,-17],[121,-19.5],[116.7,-20.6]],[[144.7,-40.7],[148.3,-40.9],[148,-43.2],[146,-43.6]]],
NewZealand:[[[172.6,-34.4],[174.5,-36.5],[178.5,-37.7],[177,-39.3],[175.8,-41.4],[174.6,-41.3],[175,-39.5],[173.8,-39.2],[174.5,-37.3]],[[172.7,-40.5],[174.3,-41.5],[173,-43.8],[171,-45],[169,-46.7],[166.5,-46],[168.5,-44],[171.3,-42]]],
Antarctica:[[[-180,-84],[-170,-81],[-160,-77.5],[-150,-76],[-137,-74.7],[-120,-74.5],[-101.5,-74.7],[-99,-72.5],[-80,-72.8],[-68,-72.5],[-63,-68],[-58,-64.5],[-56,-63.2],[-60,-67],[-61,-70],[-65,-73.5],[-68,-76.4],[-75,-77],[-82.5,-78],[-72,-80.5],[-61,-83],[-50,-82.5],[-42,-81.3],[-35,-78],[-25,-76],[-18,-74.7],[-8,-72],[1,-70.3],[15,-69.8],[34,-68.6],[45,-67.5],[53,-65.9],[62,-66.5],[70,-67.1],[67,-73],[73,-70],[79,-67.1],[89,-66],[110,-66.3],[136.5,-65.5],[155,-68],[170,-71.4],[167,-73.5],[162.5,-76.9],[162.5,-81.3],[170,-83],[180,-83.8],[180,-90],[-180,-90]]]
};
const lonBreaks = [-120, -60, 0, 60, 120];
const latBreaks = [-50, 0, 50];
// ---- scales ----
const X = lon => 2170 + 6.06 * lon;
const Y = lat => 654 - 6.06 * lat;
const stops = [[0,"#03051A"],[0.1,"#1F1231"],[0.2,"#3F1A45"],[0.3,"#671F56"],[0.4,"#A0195A"],[0.5,"#CB2A4E"],[0.58,"#E33E3F"],[0.67,"#EE6A4E"],[0.75,"#F18A64"],[0.88,"#F7B391"],[1,"#FAEBDD"]];
const T = v => (Math.log(v) - Math.log(scaleMin)) / (Math.log(scaleMax) - Math.log(scaleMin));
function hex(h){return [1,3,5].map(i=>parseInt(h.substr(i,2),16));}
function color(v){
  if (v == null) return "#7F7F7F";
  const t = Math.max(0, Math.min(1, T(v)));
  for (let i = 1; i < stops.length; i++) {
    if (t <= stops[i][0]) {
      const a = stops[i-1], b = stops[i], f = (t - a[0]) / (b[0] - a[0]);
      const ca = hex(a[1]), cb = hex(b[1]);
      return "rgb(" + ca.map((c,k)=>Math.round(c + (cb[k]-c)*f)).join(",") + ")";
    }
  }
  return stops[stops.length-1][1];
}
const NS = "http://www.w3.org/2000/svg";
const grad = document.getElementById("rocket");
stops.forEach(s => { const st = document.createElementNS(NS,"stop"); st.setAttribute("offset", s[0]); st.setAttribute("stop-color", s[1]); grad.appendChild(st); });
const grid = document.getElementById("grid");
lonBreaks.forEach(l => {
  const ln = document.createElementNS(NS,"line");
  
  
  ln.setAttribute("x1", X(l)); ln.setAttribute("x2", X(l)); ln.setAttribute("y1", Y(90)); ln.setAttribute("y2", Y(-90));
  ln.setAttribute("stroke", "#EBEBEB"); ln.setAttribute("stroke-width", "3");
  grid.appendChild(ln);
});
latBreaks.forEach(l => {
  const ln = document.createElementNS(NS,"line");
  
  
  ln.setAttribute("x1", X(-180)); ln.setAttribute("x2", X(180)); ln.setAttribute("y1", Y(l)); ln.setAttribute("y2", Y(l));
  ln.setAttribute("stroke", "#EBEBEB"); ln.setAttribute("stroke-width", "3");
  grid.appendChild(ln);
});
const map = document.getElementById("map");
countries.forEach((c, i) => {
  const polys = shapes[c]; if (!polys) return;
  const d = polys.map(p => "M" + p.map(q => X(q[0]).toFixed(1) + "," + Y(q[1]).toFixed(1)).join("L") + "Z").join("");
  const path = document.createElementNS(NS,"path");
  
  
  path.setAttribute("d", d);
  path.setAttribute("fill", color(values[i]));
  path.setAttribute("stroke", "#4D4D4D");
  path.setAttribute("stroke-width", "2.5");
  path.setAttribute("stroke-linejoin", "round");
  map.appendChild(path);
});
const cx0 = 1262, cw = 2077, cy0 = 1371, ch = 72;
const ct = document.getElementById("cticks");
legendTicks.forEach(v => {
  const x = cx0 + T(v) * cw;
  [[cy0, cy0 + 14], [cy0 + ch - 14, cy0 + ch]].forEach(s => {
    const ln = document.createElementNS(NS,"line");
    
    
    ln.setAttribute("x1", x); ln.setAttribute("x2", x); ln.setAttribute("y1", s[0]); ln.setAttribute("y2", s[1]);
    ln.setAttribute("stroke", "#fff"); ln.setAttribute("stroke-width", "2");
    ct.appendChild(ln);
  });
  const tx = document.createElementNS(NS,"text");
  
  
  tx.setAttribute("x", x); tx.setAttribute("y", 1492);
  tx.setAttribute("font-size", "35"); tx.setAttribute("text-anchor", "middle");
  tx.textContent = v;
  ct.appendChild(tx);
});
</script>
</body></html>
